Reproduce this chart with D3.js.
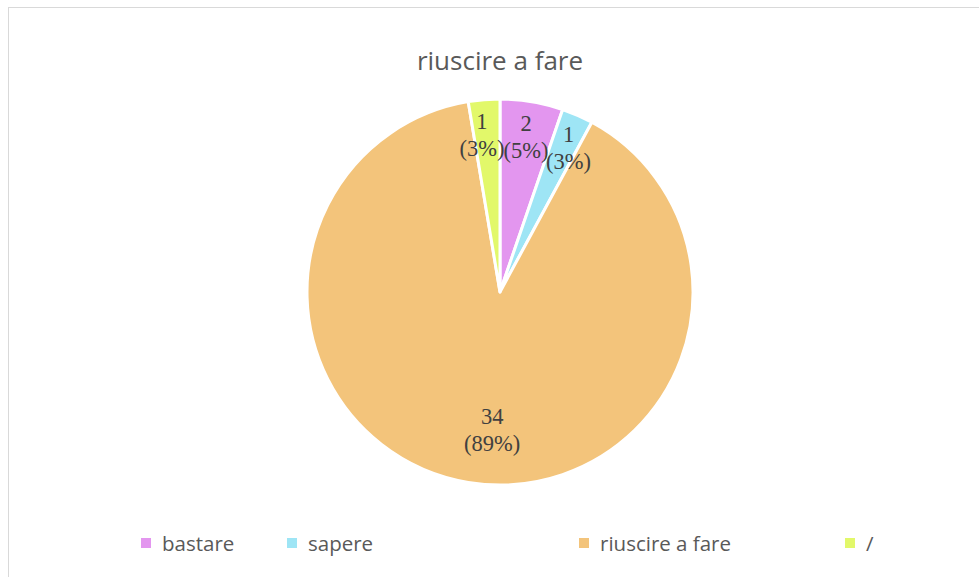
<!DOCTYPE html>
<html>
<head>
<meta charset="utf-8">
<script src="https://cdn.jsdelivr.net/npm/d3@7"></script>
<style>
  body{margin:0;background:#fff;}
  svg{display:block;}
</style>
</head>
<body>
<svg id="chart" width="979" height="577"></svg>
<script>
const categories=["bastare","sapere","riuscire a fare","/"];
const counts=[2,1,34,1];
const colors=["#E396EF","#9EE5F5","#F3C47B","#E2F86A"];
const title="riuscire a fare";

const svg=d3.select("#chart");
const cx=500,cy=292,r=193;

// frame
svg.append("rect")
  .attr("x",8.5).attr("y",7.5)
  .attr("width",1000).attr("height",1000)
  .attr("fill","#fff").attr("stroke","#d9d9d9").attr("stroke-width",1);

svg.append("text")
  .attr("x",cx).attr("y",70)
  .attr("text-anchor","middle")
  .attr("font-family","'Open Sans', sans-serif")
  .attr("font-size",26)
  .attr("fill","#595959")
  .text(title);

const total=d3.sum(counts);
const rows=categories.map((c,i)=>({cat:c,value:counts[i],color:colors[i]}));

const pie=d3.pie().sort(null).value(d=>d.value);
const arcs=pie(rows);
const arc=d3.arc().innerRadius(0).outerRadius(r);

const g=svg.append("g").attr("transform",`translate(${cx},${cy})`);

g.selectAll("path.slice").data(arcs).join("path")
  .attr("class","slice")
  .attr("d",arc)
  .attr("fill",d=>d.data.color)
  .attr("stroke","#fff")
  .attr("stroke-width",3)
  .attr("stroke-linejoin","round");

// labels: small slices sit near the rim, the big one further in
function labelPos(d){
  const share=d.value/total;
  const a=(d.startAngle+d.endAngle)/2;
  const rr=share>0.5?0.72*r:0.82*r;
  let x=Math.sin(a)*rr, y=-Math.cos(a)*rr;
  if(share>0.5) x+=15;
  if(a>0.3&&a<1) x+=5;
  if(a>6) x-=5;
  return [x,y];
}

const lab=g.selectAll("text.lab").data(arcs).join("text")
  .attr("class","lab")
  .attr("text-anchor","middle")
  .attr("font-family","'Liberation Serif', 'Times New Roman', serif")
  .attr("font-size",22.5)
  .attr("fill","#404040")
  .attr("transform",d=>`translate(${labelPos(d)})`);
lab.append("tspan").attr("x",0).attr("y",-5).text(d=>d.value);
lab.append("tspan").attr("x",0).attr("y",22)
  .text(d=>`(${Math.round(d.value/total*100)}%)`);

// legend
const legX=[141,287,579,845];
const leg=svg.append("g");
rows.forEach((d,i)=>{
  leg.append("rect")
    .attr("x",legX[i]).attr("y",538)
    .attr("width",10).attr("height",10)
    .attr("fill",d.color);
  leg.append("text")
    .attr("x",legX[i]+21).attr("y",551)
    .attr("font-family","'Open Sans', sans-serif")
    .attr("font-size",20.5)
    .attr("fill","#595959")
    .text(d.cat);
});
</script>
</body>
</html>
